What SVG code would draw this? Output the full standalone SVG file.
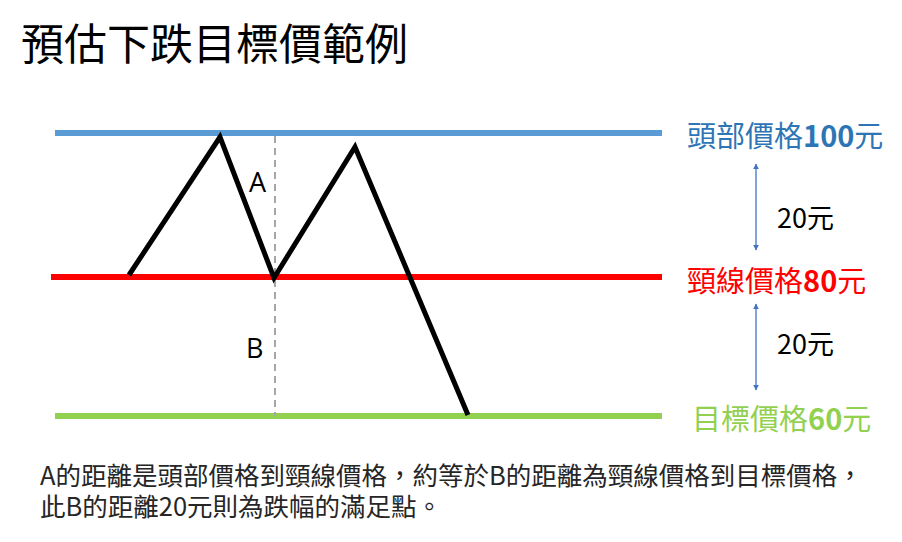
<svg xmlns="http://www.w3.org/2000/svg" width="902" height="542" viewBox="0 0 902 542">
<defs>
<style>
text{font-family:"Noto Sans CJK TC","Noto Sans CJK SC",sans-serif;}
.title{font-size:43px;fill:#000;}
.lbl{font-size:29px;}
.num{font-weight:bold;}
.dist{font-size:27px;fill:#000;}
.ab{font-size:27px;fill:#000;font-family:"Open Sans","Noto Sans",sans-serif;}
.note{font-size:25.5px;fill:#262626;}
.level{stroke-width:6;fill:none;}
.price{stroke:#000;stroke-width:5;fill:none;stroke-linejoin:miter;}
.dash{stroke:#A6A6A6;stroke-width:2;stroke-dasharray:7 5;fill:none;}
.arr{stroke:#4472C4;stroke-width:1.3;fill:none;marker-start:url(#ah);marker-end:url(#ah);}
</style>
<marker id="ah" viewBox="0 0 10 10" refX="9" refY="5" markerWidth="6" markerHeight="6" markerUnits="userSpaceOnUse" orient="auto-start-reverse">
<path d="M0,0 L10,5 L0,10 z" fill="#4472C4"/>
</marker>
</defs>
<rect width="902" height="542" fill="#fff"/>
<text class="title" x="21" y="60">預估下跌目標價範例</text>

<g id="head-level">
<line class="level" x1="55" y1="133" x2="662" y2="133" stroke="#5B9BD5"/>
<text class="lbl" x="687" y="147" fill="#2E75B6">頭部價格<tspan class="num">100</tspan>元</text>
</g>
<g id="neck-level">
<line class="level" x1="51" y1="277" x2="662" y2="277" stroke="#FF0000"/>
<text class="lbl" x="687" y="292" fill="#FF0000">頸線價格<tspan class="num">80</tspan>元</text>
</g>
<g id="target-level">
<line class="level" x1="55" y1="416" x2="662" y2="416" stroke="#92D050"/>
<text class="lbl" x="692" y="430" fill="#92D050">目標價格<tspan class="num">60</tspan>元</text>
</g>

<g id="connectors">
<line class="dash" x1="275" y1="136" x2="275" y2="416"/>
<polyline class="price" points="129,275 220,137 274,278 355,147 468,415"/>
<line class="arr" x1="756" y1="164" x2="756" y2="250"/>
<line class="arr" x1="756" y1="304" x2="756" y2="390"/>
</g>

<g id="labels">
<text class="ab" x="249" y="192">A</text>
<text class="ab" x="246" y="358">B</text>
<text class="dist" x="777" y="228">20元</text>
<text class="dist" x="777" y="354">20元</text>
</g>

<g id="note">
<text class="note" x="40" y="485"><tspan x="40" y="485">A的距離是頭部價格到頸線價格，約等於B的距離為頸線價格到目標價格，</tspan><tspan x="40" y="516">此B的距離20元則為跌幅的滿足點。</tspan></text>
</g>
</svg>
